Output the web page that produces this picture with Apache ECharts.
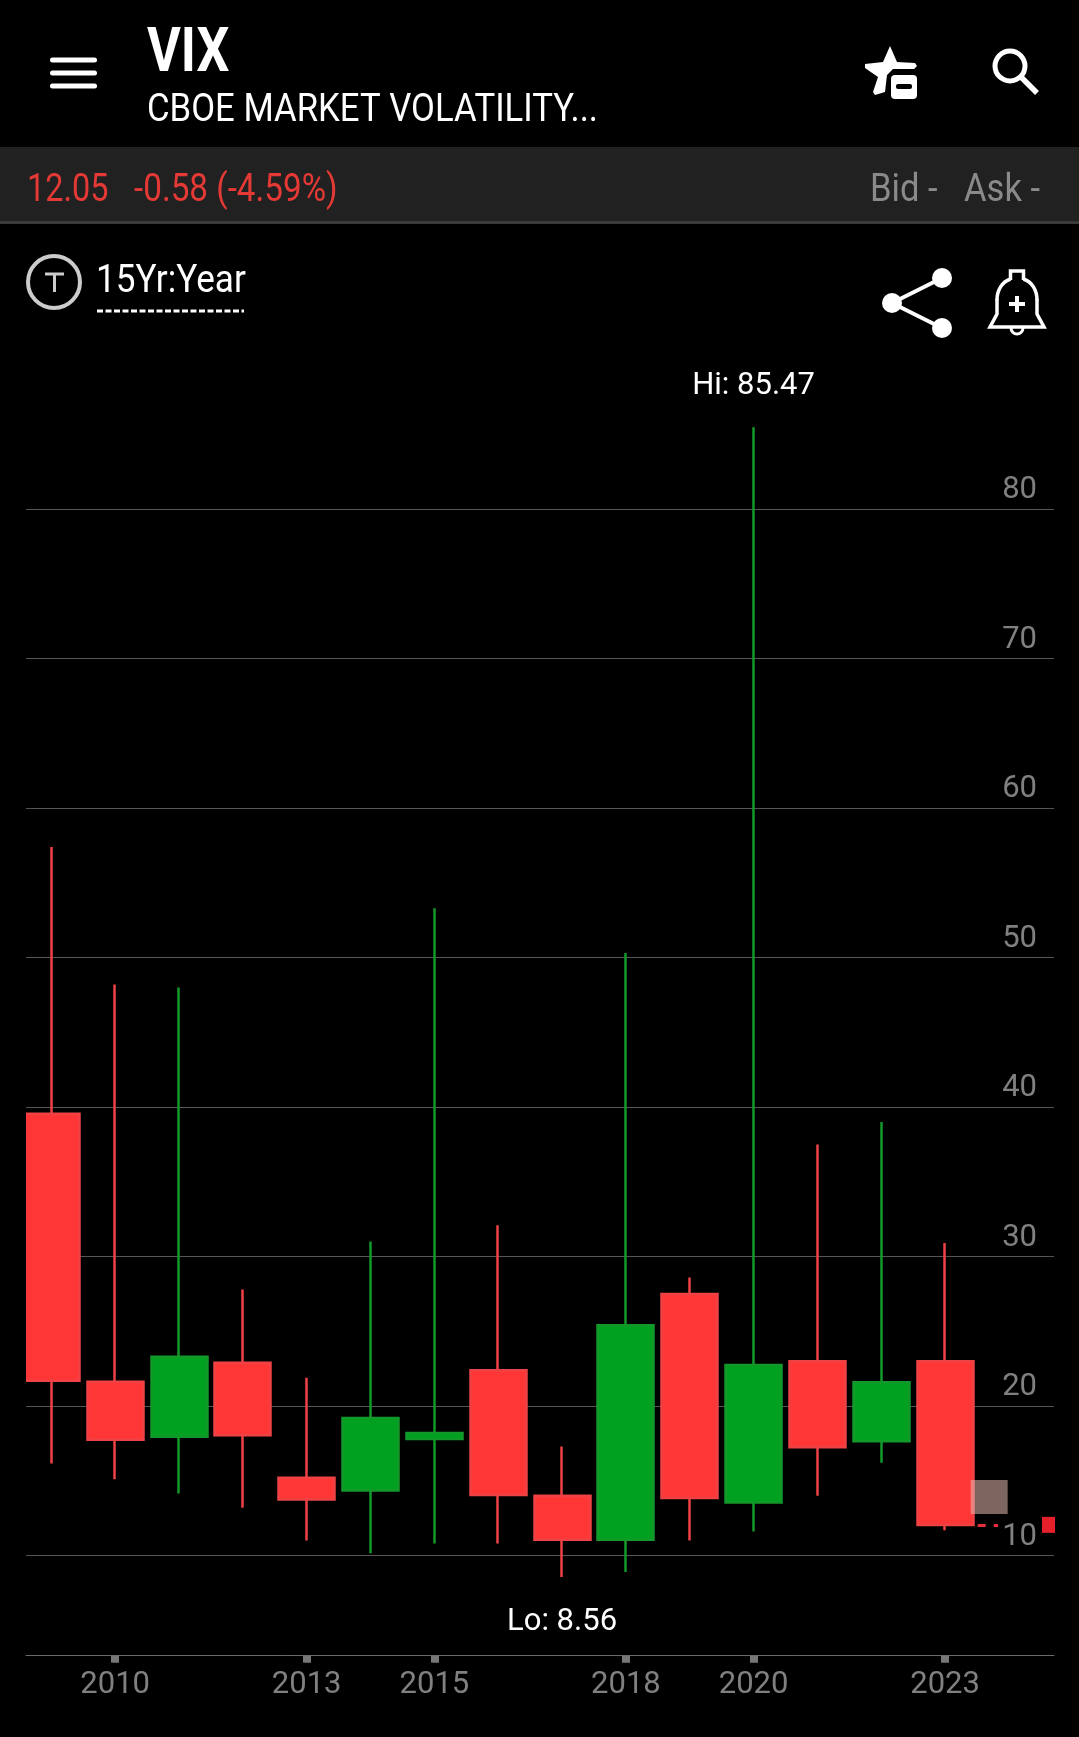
<!DOCTYPE html>
<html>
<head>
<meta charset="utf-8">
<title>VIX 15Yr:Year</title>
<script src="https://cdn.jsdelivr.net/npm/echarts@6/dist/echarts.min.js"></script>
<style>
html, body { margin: 0; background: #000; }
#chart { width: 1079px; height: 1737px; }
</style>
</head>
<body>
<div id="chart"></div>
<script>
// yearly candles
const years = [2009, 2010, 2011, 2012, 2013, 2014, 2015, 2016, 2017, 2018, 2019, 2020, 2021, 2022, 2023]
const open = [39.56, 21.63, 17.95, 22.9, 15.2, 14.35, 17.8, 22.4, 14, 11.05, 27.5, 13.55, 23, 17.65, 23]
const close = [21.7, 17.75, 23.3, 18.05, 13.75, 19.2, 18.2, 14.05, 11.05, 25.4, 13.85, 22.75, 17.25, 21.6, 12.05]
const low = [16.15, 15.1, 14.15, 13.2, 11, 10.15, 10.8, 10.8, 8.56, 8.9, 11, 11.6, 14, 16.2, 11.7]
const high = [57.4, 48.2, 48, 27.8, 21.9, 31, 53.3, 32.1, 17.3, 50.3, 28.6, 85.47, 37.5, 39, 30.9]

const yearTicks = [2010, 2013, 2015, 2018, 2020, 2023]
const priceTicks = [10, 20, 30, 40, 50, 60, 70, 80]
const lastPrice = 12.05
const hiYear = 2020
const hiValue = 85.47
const loYear = 2017
const loValue = 8.56

const RED = '#ff3636'
const GREEN = '#00a020'
const GRAY = '#808080'

// roboto squeezed sideways, the app uses a condensed face that is not installed
function label(text, x, y, size, fill, scaleX, weight) {
  return {
    type: 'text',
    x: x,
    y: y,
    scaleX: scaleX,
    style: {
      text: text,
      fill: fill,
      font: (weight || 'normal') + ' ' + size + 'px Roboto',
      verticalAlign: 'middle'
    }
  }
}
function bar(x, y, w, h, fill, r) {
  return { type: 'rect', shape: { x: x, y: y, width: w, height: h, r: r || 0 }, style: { fill: fill } }
}
function line(x1, y1, x2, y2, stroke, w, dash) {
  return {
    type: 'line',
    shape: { x1: x1, y1: y1, x2: x2, y2: y2 },
    style: { stroke: stroke, lineWidth: w, lineDash: dash || null }
  }
}
function dot(cx, cy, r, fill) {
  return { type: 'circle', shape: { cx: cx, cy: cy, r: r }, style: { fill: fill } }
}
function ring(cx, cy, r, stroke, w) {
  return { type: 'circle', shape: { cx: cx, cy: cy, r: r }, style: { fill: 'none', stroke: stroke, lineWidth: w } }
}
function outline(points) {
  return { type: 'polyline', shape: { points: points }, style: { fill: 'none', stroke: '#fff', lineWidth: 3.5 } }
}
function curve(x1, y1, cx1, cy1, cx2, cy2, x2, y2) {
  return {
    type: 'bezierCurve',
    shape: { x1: x1, y1: y1, cpx1: cx1, cpy1: cy1, cpx2: cx2, cpy2: cy2, x2: x2, y2: y2 },
    style: { fill: 'none', stroke: '#fff', lineWidth: 3.5 }
  }
}

const chrome = [
  // menu
  bar(50, 57.5, 47, 5, '#fff', 2.5),
  bar(50, 70.5, 47, 5, '#fff', 2.5),
  bar(50, 83.5, 47, 5, '#fff', 2.5),
  label('VIX', 147, 56, 61, '#fff', 0.85, 'bold'),
  label('CBOE MARKET VOLATILITY...', 147, 111, 39, '#fff', 0.89),
  // star with minus
  {
    type: 'polygon',
    shape: { points: [[890, 46], [897, 62], [915, 63], [917, 66], [914, 69], [893, 69], [887, 75], [885, 92], [875, 95], [873, 92], [878, 77], [865, 68], [865, 64], [883, 62]] },
    style: { fill: '#fff', lineJoin: 'round' }
  },
  bar(891, 75, 26, 24, '#fff', 4),
  bar(896, 84, 16, 5, '#000', 2),
  // search
  ring(1010, 66, 15, '#fff', 5),
  line(1021, 77, 1037, 93, '#fff', 5.5),
  // price strip
  bar(0, 147, 1079, 75, '#212121'),
  bar(0, 221, 1079, 3, '#3a3a3a'),
  label('12.05', 27, 191, 38, '#e53935', 0.853),
  label('-0.58 (-4.59%)', 134, 191, 38, '#e53935', 0.875),
  label('Bid -', 870, 191, 38, '#8a8a8a', 0.91),
  label('Ask -', 964, 191, 38, '#8a8a8a', 0.91),
  // period selector
  ring(54, 282, 26, '#ccc', 4),
  line(45, 274, 64, 274, '#ccc', 3),
  line(54.5, 274, 54.5, 292, '#ccc', 3),
  label('15Yr:Year', 96, 282.5, 39, '#fff', 0.9),
  line(97, 311, 244, 311, '#fff', 3, [6, 2.5]),
  // share
  line(942, 278, 892, 303, '#fff', 4),
  line(892, 303, 942, 328, '#fff', 4),
  dot(942, 278, 10, '#fff'),
  dot(892, 303, 10, '#fff'),
  dot(942, 328, 10, '#fff'),
  // bell with plus
  outline([[1010.5, 280], [1010.5, 271], [1023.5, 271], [1023.5, 280]]),
  curve(1023.5, 279, 1032, 282, 1037, 290, 1037, 300),
  curve(1010.5, 279, 1002, 282, 997, 290, 997, 300),
  outline([[997, 299], [997, 314], [990, 327], [1044, 327], [1037, 314], [1037, 299]]),
  {
    type: 'arc',
    shape: { cx: 1017, cy: 328, r: 6, startAngle: 0, endAngle: Math.PI },
    style: { fill: 'none', stroke: '#fff', lineWidth: 3 }
  },
  line(1009, 304, 1025, 304, '#fff', 4),
  line(1017, 296, 1017, 312, '#fff', 4),
  // the 2009 candle runs off the left edge of the plot, candlestick does not cut it
  { type: 'rect', z: 100, shape: { x: 0, y: 1000, width: 26, height: 500 }, style: { fill: '#000' } }
]

const candles = years.map(function(y, i) {
  return [y, open[i], close[i], low[i], high[i]]
})

const myChart = echarts.init(document.getElementById('chart'))
myChart.setOption({
  animation: false,
  backgroundColor: '#000',
  textStyle: { fontFamily: 'Roboto' },
  graphic: chrome,
  grid: { left: 26, right: 25, top: 400, bottom: 81.3, containLabel: false },
  xAxis: {
    type: 'value',
    min: 2008.603,
    max: 2024.706,
    splitLine: { show: false },
    axisLine: { show: true, onZero: false, lineStyle: { color: '#6a6a6a', width: 1 } },
    axisTick: { show: true, customValues: yearTicks, length: 7, lineStyle: { color: '#777', width: 8 } },
    axisLabel: {
      customValues: yearTicks,
      color: GRAY,
      fontSize: 31,
      margin: 14,
      formatter: function(v) { return String(v) }
    }
  },
  yAxis: {
    type: 'value',
    position: 'right',
    min: 3.3,
    max: 87.3,
    axisLine: { show: false },
    axisTick: { show: false, customValues: priceTicks },
    splitLine: { show: true, lineStyle: { color: '#555', width: 1 } },
    axisLabel: {
      customValues: priceTicks,
      inside: true,
      margin: 17,
      color: GRAY,
      fontSize: 31,
      verticalAlign: 'bottom',
      padding: [0, 0, 3, 0]
    }
  },
  series: [{
    type: 'candlestick',
    barWidth: 56.5,
    data: candles,
    itemStyle: {
      color: GREEN,
      color0: RED,
      borderColor: '#12992a',
      borderColor0: '#ee4244',
      borderWidth: 2.5
    },
    markPoint: {
      symbol: 'rect',
      symbolSize: 0,
      silent: true,
      label: { color: '#fff', fontSize: 31, fontFamily: 'Roboto', distance: 26 },
      data: [
        { coord: [hiYear, hiValue], label: { position: 'top', formatter: 'Hi: ' + hiValue } },
        { coord: [loYear, loValue], label: { position: 'bottom', distance: 30, formatter: 'Lo: ' + loValue } },
        {
          coord: [2024.62, lastPrice],
          symbolSize: [13, 16],
          itemStyle: { color: '#e5202a' },
          label: { show: false }
        }
      ]
    },
    markLine: {
      symbol: 'none',
      silent: true,
      label: { show: false },
      lineStyle: { color: '#e5303a', width: 3, type: [8, 8] },
      data: [[{ coord: [2023.51, lastPrice] }, { coord: [2023.83, lastPrice] }]]
    },
    markArea: {
      silent: true,
      z: 4,
      itemStyle: { color: 'rgba(230,185,175,0.55)' },
      data: [[{ coord: [2023.4, 15.05] }, { coord: [2023.98, 12.78] }]]
    }
  }]
})
</script>
</body>
</html>
